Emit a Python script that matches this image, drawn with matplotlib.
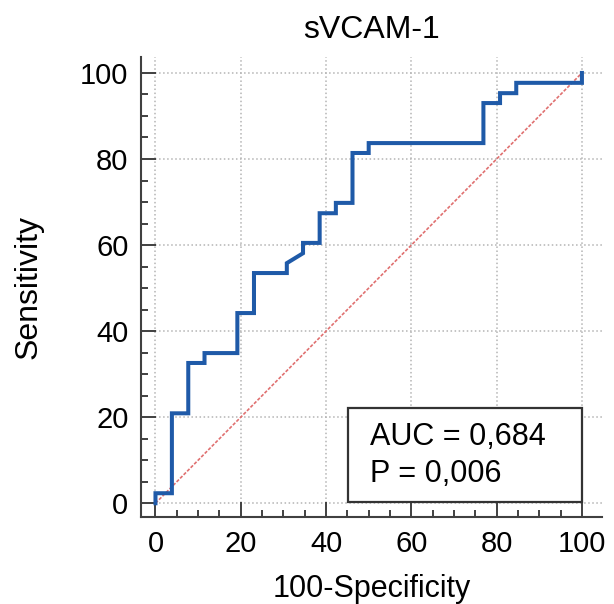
import matplotlib
matplotlib.use("Agg")
import matplotlib.pyplot as plt
from matplotlib.ticker import FixedLocator

plt.rcParams["font.family"] = ["Liberation Sans", "DejaVu Sans"]

# ROC curve vertices (100-Specificity, Sensitivity)
fpr = [0, 0, 3.85, 3.85, 7.69, 7.69, 11.5, 11.5, 19.2, 19.2, 23.1, 23.1,
       30.8, 30.8, 34.6, 34.6, 38.5, 38.5, 42.3, 42.3, 46.2, 46.2, 50.0, 50.0,
       76.9, 76.9, 80.8, 80.8, 84.6, 84.6, 100, 100]
tpr = [0, 2.33, 2.33, 20.9, 20.9, 32.6, 32.6, 34.9, 34.9, 44.2, 44.2, 53.5,
       53.5, 55.8, 58.1, 60.5, 60.5, 67.4, 67.4, 69.8, 69.8, 81.4, 81.4, 83.7,
       83.7, 93.0, 93.0, 95.3, 95.3, 97.7, 97.7, 100]

title = "sVCAM-1"
auc_text = "AUC = 0,684"
p_text = "P = 0,006"
major = [0, 20, 40, 60, 80, 100]
minor = [v for v in range(0, 101, 5) if v % 20]

XLIM = (-3.4, 104.7)
YLIM = (-3.2, 103.7)
spine_col = "#404040"

fig = plt.figure(figsize=(6.14, 6.04), dpi=100)
ax = fig.add_axes([0.2296, 0.1440, 0.7508, 0.7616])
ax.set_xlim(*XLIM)
ax.set_ylim(*YLIM)

# dotted grid, starting at 0 and running to the far edge
ax.hlines(major, 0, XLIM[1], colors="#b4b4b4", linestyles=":", lw=1.1, zorder=1)
ax.vlines(major, 0, YLIM[1], colors="#b4b4b4", linestyles=":", lw=1.1, zorder=1)

# reference diagonal
ax.plot([0, 100], [0, 100], color="#e07070", lw=1.2, ls=(0, (2, 1)), zorder=2)

# ROC curve
ax.plot(fpr, tpr, color="#1f5aa8", lw=2.9, solid_joinstyle="miter", zorder=3)

for side in ("top", "right"):
    ax.spines[side].set_visible(False)
for side in ("left", "bottom"):
    ax.spines[side].set_color(spine_col)
    ax.spines[side].set_linewidth(1.5)

ax.xaxis.set_major_locator(FixedLocator(major))
ax.yaxis.set_major_locator(FixedLocator(major))
ax.xaxis.set_minor_locator(FixedLocator(minor))
ax.yaxis.set_minor_locator(FixedLocator(minor))
ax.tick_params(which="major", direction="in", length=10.5, width=1.4,
               color=spine_col, labelsize=21, pad=9)
ax.tick_params(which="minor", direction="in", length=5.3, width=1.4,
               color=spine_col)

ax.set_title(title, fontsize=23, pad=14)
ax.set_xlabel("100-Specificity", fontsize=22, labelpad=12)
ax.set_ylabel("Sensitivity", fontsize=23, labelpad=26)

# AUC box
box = plt.Rectangle((45.2, 0.3), 100 - 45.2, 21.8, facecolor="white",
                    edgecolor="#333333", lw=1.6, zorder=4)
ax.add_patch(box)
ax.text(50.2, 13.5, auc_text, fontsize=22, zorder=5)
ax.text(50.2, 5.0, p_text, fontsize=22, zorder=5)

fig.savefig("out.png", dpi=100)
